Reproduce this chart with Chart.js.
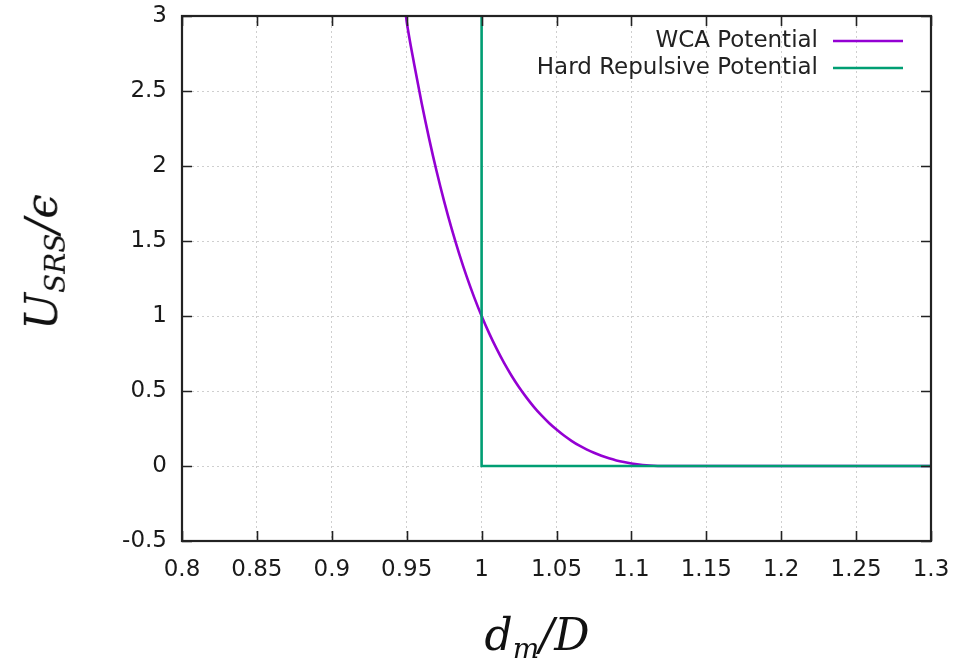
<!DOCTYPE html>
<html>
<head>
<meta charset="utf-8">
<script src="https://cdn.jsdelivr.net/npm/chart.js@4.4.0/dist/chart.umd.min.js"></script>
<style>
  html, body { margin: 0; padding: 0; background: #fff; }
  #wrap { position: relative; width: 968px; height: 667px; }
  canvas { position: absolute; left: 0; top: 0; }
  .axtitle { position: absolute; font-family: "DejaVu Serif", serif; font-style: italic; font-size: 44px; color: #111; white-space: nowrap; line-height: 1; }
  .axtitle sub { font-size: 28px; vertical-align: -0.3em; }
  #ytitle { left: 45px; top: 262px; transform: translate(-50%, -50%) rotate(-90deg); }
  #xtitle { left: 537px; top: 638px; transform: translate(-50%, -50%); }
</style>
</head>
<body>
<div id="wrap">
  <canvas id="c" width="968" height="667"></canvas>
  <div class="axtitle" id="ytitle">U<sub>SRS</sub>/ϵ</div>
  <div class="axtitle" id="xtitle">d<sub>m</sub>/D</div>
</div>
<script>
// Separation d_m/D and reduced potential U/ϵ for the WCA curve
const wcaX = [0.9495, 0.95, 0.955, 0.96, 0.965, 0.97, 0.975, 0.98, 0.985, 0.99, 0.995,
  1.0, 1.005, 1.01, 1.015, 1.02, 1.025, 1.03, 1.035, 1.04, 1.045, 1.05, 1.055, 1.06,
  1.065, 1.07, 1.075, 1.08, 1.085, 1.09, 1.095, 1.1, 1.105, 1.11, 1.115, 1.12, 1.1225, 1.3];
const wcaY = [3.0, 2.962, 2.678, 2.418, 2.181, 1.963, 1.764, 1.582, 1.416, 1.264, 1.126,
  1.0, 0.886, 0.782, 0.687, 0.602, 0.525, 0.456, 0.393, 0.337, 0.287, 0.243, 0.203, 0.168,
  0.137, 0.111, 0.088, 0.068, 0.051, 0.037, 0.026, 0.017, 0.010, 0.005, 0.002, 0.0002, 0, 0];

// Hard repulsive step: infinite wall at d_m/D = 1, zero beyond
const hardX = [1.0, 1.0, 1.3];
const hardY = [3.2, 0, 0];

const seriesNames = ['WCA Potential', 'Hard Repulsive Potential'];
const seriesColors = ['#9400D3', '#009E73'];

const xTickLabels = ['0.8', '0.85', '0.9', '0.95', '1', '1.05', '1.1', '1.15', '1.2', '1.25', '1.3'];
const yTickLabels = ['-0.5', '0', '0.5', '1', '1.5', '2', '2.5', '3'];

const toPoints = (xs, ys) => xs.map((x, i) => ({ x, y: ys[i] }));

// Frame with inward ticks on all four sides, plus a right-aligned key
const framePlugin = {
  id: 'frame',
  afterDatasetsDraw(chart) {
    const { ctx, chartArea: a, scales } = chart;
    const tl = 10;
    ctx.save();
    ctx.strokeStyle = '#222';
    ctx.lineWidth = 1.6;
    ctx.beginPath();
    scales.x.ticks.forEach(t => {
      const px = Math.round(scales.x.getPixelForValue(t.value)) + 0.5;
      ctx.moveTo(px, a.bottom); ctx.lineTo(px, a.bottom - tl);
      ctx.moveTo(px, a.top); ctx.lineTo(px, a.top + tl);
    });
    scales.y.ticks.forEach(t => {
      const py = Math.round(scales.y.getPixelForValue(t.value)) + 0.5;
      ctx.moveTo(a.left, py); ctx.lineTo(a.left + tl, py);
      ctx.moveTo(a.right, py); ctx.lineTo(a.right - tl, py);
    });
    ctx.stroke();
    ctx.lineWidth = 2.2;
    ctx.strokeRect(a.left, a.top, a.right - a.left, a.bottom - a.top);

    // key
    ctx.font = '23px "DejaVu Sans", sans-serif';
    ctx.textAlign = 'right';
    ctx.textBaseline = 'middle';
    chart.data.datasets.forEach((ds, i) => {
      const y = a.top + 25 + i * 27;
      ctx.fillStyle = '#222';
      ctx.fillText(ds.label, a.right - 113, y);
      ctx.strokeStyle = ds.borderColor;
      ctx.lineWidth = 2.6;
      ctx.beginPath();
      ctx.moveTo(a.right - 98, y);
      ctx.lineTo(a.right - 28, y);
      ctx.stroke();
    });
    ctx.restore();
  }
};

new Chart(document.getElementById('c'), {
  type: 'line',
  data: {
    datasets: [
      { label: seriesNames[0], data: toPoints(wcaX, wcaY), borderColor: seriesColors[0], order: 2,
        borderWidth: 2.6, pointRadius: 0, tension: 0.3, cubicInterpolationMode: 'monotone' },
      { label: seriesNames[1], data: toPoints(hardX, hardY), borderColor: seriesColors[1], order: 1,
        borderWidth: 2.6, pointRadius: 0, tension: 0 }
    ]
  },
  options: {
    responsive: false,
    animation: false,
    layout: { padding: { left: 0, right: 37, top: 16, bottom: 0 } },
    plugins: { legend: { display: false }, tooltip: { enabled: false } },
    scales: {
      x: {
        type: 'linear', min: 0.8, max: 1.3,
        afterFit(s) { s.height = 126; s.paddingLeft = 0; s.paddingRight = 0; },
        ticks: { stepSize: 0.05, padding: 15, color: '#1a1a1a', maxRotation: 0, autoSkip: false,
          font: { family: '"DejaVu Sans", sans-serif', size: 23 },
          callback: (v, i) => xTickLabels[i] },
        grid: { color: '#cfcfcf', lineWidth: 1, drawTicks: false },
        border: { display: false, dash: [2, 3] }
      },
      y: {
        type: 'linear', min: -0.5, max: 3,
        afterFit(s) { s.width = 182; s.paddingTop = 0; s.paddingBottom = 0; },
        ticks: { stepSize: 0.5, padding: 15, color: '#1a1a1a', autoSkip: false,
          font: { family: '"DejaVu Sans", sans-serif', size: 23 },
          callback: (v, i) => yTickLabels[i] },
        grid: { color: '#cfcfcf', lineWidth: 1, drawTicks: false },
        border: { display: false, dash: [2, 3] }
      }
    }
  },
  plugins: [framePlugin]
});
</script>
</body>
</html>
